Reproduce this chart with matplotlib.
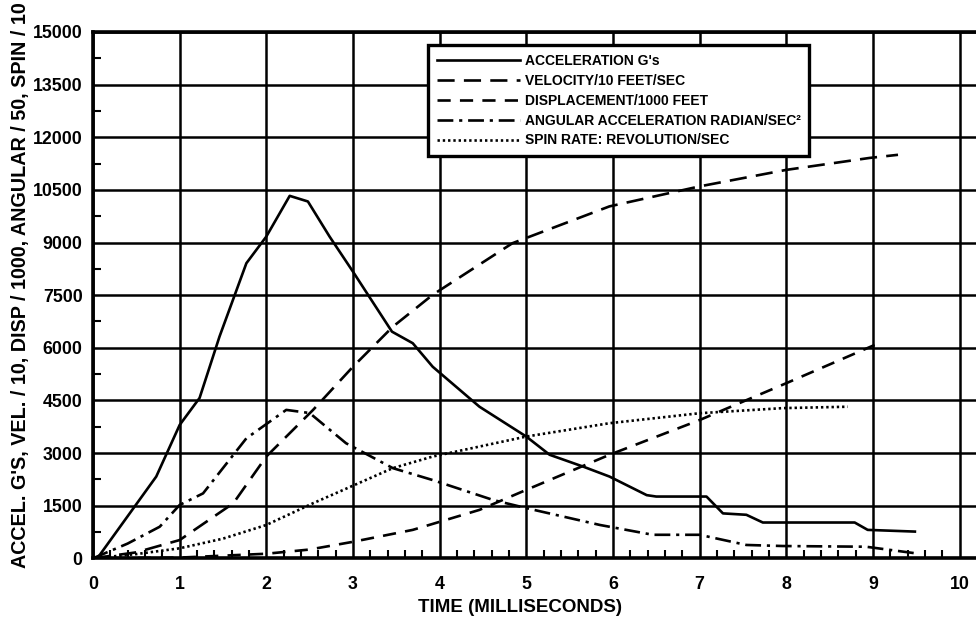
import matplotlib
matplotlib.use("Agg")
import matplotlib.pyplot as plt
from matplotlib.ticker import MultipleLocator, FixedLocator
from matplotlib.lines import Line2D
import matplotlib.font_manager as fm

# ---- data (time in ms, scaled values) ----
accel_t = [0.05, 0.73, 1.0, 1.23, 1.46, 1.77, 2.0, 2.27, 2.48, 2.73, 3.0, 3.45, 3.69,
           3.92, 4.46, 5.0, 5.27, 5.66, 5.96, 6.39, 6.5, 7.08, 7.27, 7.54, 7.73, 8.79,
           8.94, 9.5]
accel_v = [0, 2330, 3800, 4570, 6320, 8410, 9170, 10330, 10170, 9170, 8170, 6460, 6130,
           5460, 4320, 3470, 2950, 2610, 2330, 1800, 1760, 1760, 1280, 1240, 1020, 1020,
           810, 760]

vel_t = [0.0, 0.5, 1.0, 1.62, 2.0, 2.54, 3.0, 3.46, 3.92, 4.84, 5.96, 7.0, 8.0, 8.96, 9.29]
vel_v = [0, 170, 520, 1570, 2900, 4230, 5460, 6600, 7510, 8980, 10030, 10600, 11070,
         11410, 11500]

disp_t = [0.0, 1.0, 2.0, 2.5, 3.0, 3.69, 4.46, 5.0, 5.96, 7.0, 8.0, 9.02]
disp_v = [0, 20, 130, 250, 470, 810, 1380, 1950, 2950, 3940, 4990, 6080]

ang_t = [0.0, 0.4, 0.77, 1.0, 1.27, 1.77, 2.23, 2.5, 2.92, 3.46, 3.92, 4.62, 5.0, 5.85,
         6.46, 7.0, 7.54, 7.96, 8.92, 9.5]
ang_v = [0, 420, 900, 1520, 1850, 3420, 4230, 4140, 3280, 2570, 2230, 1660, 1430, 950,
         670, 670, 380, 350, 330, 140]

spin_t = [0.0, 0.5, 1.0, 1.5, 2.0, 2.54, 3.46, 3.92, 5.0, 5.96, 7.0, 7.96, 8.71]
spin_v = [0, 120, 285, 560, 950, 1570, 2570, 2900, 3470, 3850, 4135, 4280, 4320]

series_labels = ["ACCELERATION G's", "VELOCITY/10 FEET/SEC", "DISPLACEMENT/1000 FEET",
                 "ANGULAR ACCELERATION RADIAN/SEC²", "SPIN RATE: REVOLUTION/SEC"]
x_ticks = [0, 1, 2, 3, 4, 5, 6, 7, 8, 9, 10]
y_ticks = [0, 1500, 3000, 4500, 6000, 7500, 9000, 10500, 12000, 13500, 15000]

# ---- fonts ----
installed = {f.name for f in fm.fontManager.ttflist}
fam = [f for f in ["Liberation Sans Narrow", "Liberation Sans", "DejaVu Sans"] if f in installed]
plt.rcParams["font.family"] = fam
plt.rcParams["font.weight"] = "bold"

W, H = 976, 620
x0, x1 = 93, 976
y_bot, y_top = 558.3, 32
fig = plt.figure(figsize=(W / 100, H / 100), dpi=100)
ax = fig.add_axes([x0 / W, (H - y_bot) / H, (x1 - x0) / W, (y_bot - y_top) / H])
aw, ah = x1 - x0, y_bot - y_top

lw = 1.9
styles = [
    dict(linestyle="-"),
    dict(linestyle=(0, (6.5, 3.5))),
    dict(linestyle=(0, (5, 3.5))),
    dict(linestyle=(0, (6, 2.2, 1.2, 2.2))),
    dict(linestyle=(0, (0.9, 1.1))),
]
data = [(accel_t, accel_v), (vel_t, vel_v), (disp_t, disp_v), (ang_t, ang_v), (spin_t, spin_v)]
for (t, v), st in zip(data, styles):
    ax.plot(t, v, color="black", lw=lw, solid_capstyle="butt", dash_capstyle="butt", **st)

ax.set_xlim(0, 10.19)
ax.set_ylim(0, 15000)

ax.xaxis.set_major_locator(FixedLocator(x_ticks))
ax.yaxis.set_major_locator(FixedLocator(y_ticks))
ax.xaxis.set_minor_locator(MultipleLocator(0.2))
ax.yaxis.set_minor_locator(MultipleLocator(750))
ax.grid(True, which="major", color="black", lw=1.8)
ax.set_axisbelow(True)

ax.tick_params(which="major", length=0, labelsize=12.8)
ax.tick_params(axis="y", which="major", pad=7.5)
ax.tick_params(axis="x", which="major", pad=13)
ax.tick_params(which="minor", direction="in", length=6, width=1.5, color="black")
for lab in ax.get_xticklabels() + ax.get_yticklabels():
    lab.set_fontweight("bold")

for s in ["left", "bottom", "top"]:
    ax.spines[s].set_linewidth(2.6)
ax.spines["right"].set_visible(False)

ax.set_xlabel("TIME (MILLISECONDS)", fontsize=13.5, fontweight="bold")
ax.xaxis.set_label_coords((519.5 - x0) / aw, -(608 - y_bot) / ah)
ax.xaxis.label.set_va("center")
ax.set_ylabel("ACCEL. G'S, VEL. / 10, DISP / 1000, ANGULAR / 50, SPIN / 10",
              fontsize=14.2, fontweight="bold")
ax.yaxis.set_label_coords((21 - x0) / aw, (y_bot - 285) / ah)
ax.yaxis.label.set_va("center")

handles = [Line2D([], [], color="black", lw=lw, **st) for st in styles]
leg = ax.legend(handles, series_labels, loc="upper left",
                bbox_to_anchor=((428 - x0) / aw, (y_bot - 45) / ah),
                borderaxespad=0, fancybox=False, framealpha=1, edgecolor="black",
                handlelength=6.0, handletextpad=0.3, borderpad=0.65, labelspacing=0.42,
                prop=dict(size=10, weight="bold"))
leg.get_frame().set_linewidth(2.4)

fig.savefig("out.png", dpi=100)
